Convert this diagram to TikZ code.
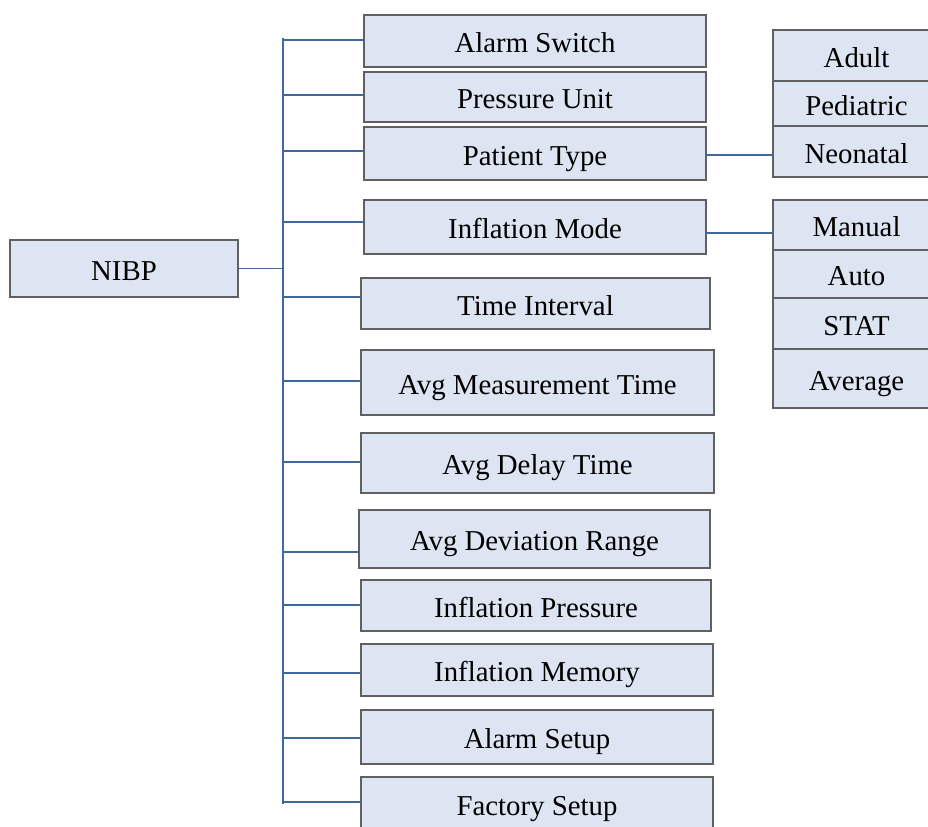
\documentclass[tikz,border=0pt]{standalone}
\usepackage{fontspec}
\setmainfont{Liberation Serif}
\definecolor{boxfill}{HTML}{DCE5F1}
\definecolor{boxline}{HTML}{606060}
\definecolor{linkblue}{HTML}{41689C}
\begin{document}
\begin{tikzpicture}[x=0.75pt,y=-0.75pt,
  box/.style={draw=boxline, line width=1.6pt, fill=boxfill, inner sep=0pt,
    text height=17.6pt, text depth=0pt,
    font=\fontsize{21.6}{24}\selectfont},
  link/.style={draw=linkblue, line width=1.2pt}]
\useasboundingbox (0,0) rectangle (928,827);
\clip (0,0) rectangle (928,827);
\def\bx#1#2#3#4#5#6{\node[box, minimum width=#4*0.75pt, minimum height=#5*0.75pt] (#1) at (#2,#3) {#6};}
\bx{nibp}{124}{268.5}{228}{57}{NIBP}
\bx{as}{535}{41}{342}{52}{Alarm Switch}
\bx{pu}{535}{97}{342}{50}{Pressure Unit}
\bx{pt}{535}{153.5}{342}{53}{Patient Type}
\bx{im}{535}{227}{342}{54}{Inflation Mode}
\bx{ti}{535.5}{303.5}{349}{51}{Time Interval}
\bx{amt}{537.5}{382.5}{353}{65}{Avg Measurement Time}
\bx{adt}{537.5}{463}{353}{60}{Avg Delay Time}
\bx{adr}{534.5}{539}{351}{58}{Avg Deviation Range}
\bx{ip}{536}{605.5}{350}{51}{Inflation Pressure}
\bx{imem}{537}{670}{352}{52}{Inflation Memory}
\bx{alset}{537}{737}{352}{54}{Alarm Setup}
\bx{fs}{537}{803.5}{352}{53}{Factory Setup}
\bx{adult}{856.5}{55.5}{167}{51}{Adult}
\bx{ped}{856.5}{103.5}{167}{45}{Pediatric}
\bx{neo}{856.5}{151.5}{167}{51}{Neonatal}
\bx{man}{856.5}{225}{167}{50}{Manual}
\bx{auto}{856.5}{274}{167}{48}{Auto}
\bx{stat}{856.5}{323.5}{167}{51}{STAT}
\bx{avg}{856.5}{378.5}{167}{59}{Average}
% trunk
\coordinate (ttop) at (283,38);
\coordinate (tbot) at (283,804);
\draw[link] (ttop) -- (tbot);
\coordinate (tn) at (283,268.5);
\draw[link] (nibp.east) -- (tn);
\foreach \n/\y in {as/40,pu/95,pt/151,im/222,ti/297,amt/381,adt/462,adr/552,ip/605,imem/673,alset/738,fs/802}{
  \coordinate (b\n) at (283,\y);
  \draw[link] (b\n) -- (\n.west |- b\n);
}
\coordinate (cpt) at (706,155);
\draw[link] (cpt) -- (neo.west |- cpt);
\coordinate (cim) at (706,233);
\draw[link] (cim) -- (man.west |- cim);
\end{tikzpicture}
\end{document}
